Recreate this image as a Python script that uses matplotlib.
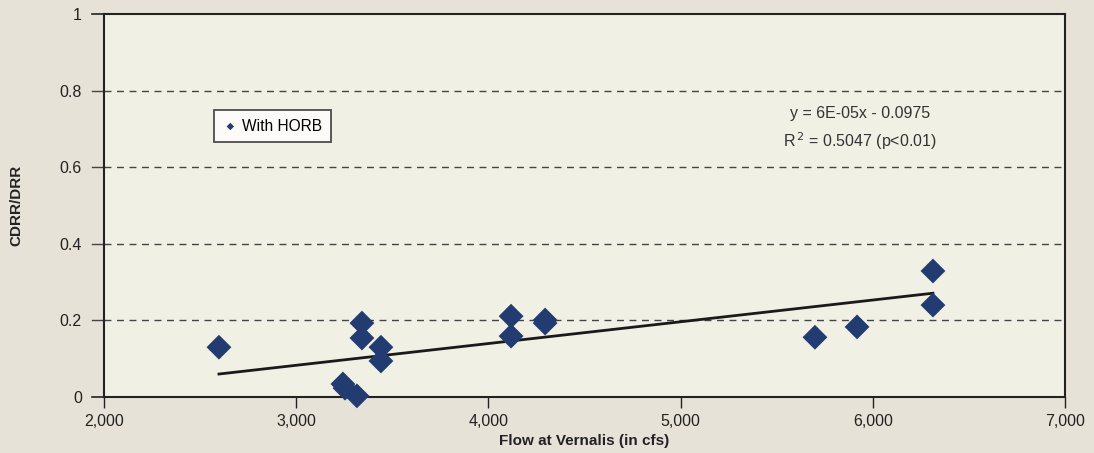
import matplotlib
matplotlib.use("Agg")
import matplotlib.pyplot as plt
import numpy as np

flow = [2598, 3243, 3254, 3316, 3342, 3342, 3441, 3441, 4118, 4118, 4295, 4295, 5699, 5918, 6313, 6313]
ratio = [0.130, 0.034, 0.023, 0.003, 0.193, 0.154, 0.130, 0.094, 0.211, 0.159, 0.201, 0.193, 0.156, 0.183, 0.329, 0.240]
trend_slope = 5.68e-5
trend_intercept = -0.0876
xticks = [2000, 3000, 4000, 5000, 6000, 7000]
yticks = [0, 0.2, 0.4, 0.6, 0.8, 1]
ytick_labels = ["0", "0.2", "0.4", "0.6", "0.8", "1"]
eq_text = "y = 6E-05x - 0.0975"
r2_text = "R$^{\\,2}$ = 0.5047 (p<0.01)"

plt.rcParams['font.family'] = ['Liberation Sans', 'DejaVu Sans']

fig = plt.figure(figsize=(10.94, 4.53), dpi=100, facecolor='#E6E2D7')
ax = fig.add_axes([104/1094, 1 - 397/453, (1065-104)/1094, (397-14)/453])
ax.set_facecolor('#F1F0E5')

fx = np.array(flow)
xl = np.array([fx.min(), fx.max()])
ax.plot(xl, trend_slope*xl + trend_intercept, color='#1a1a1a', lw=2, zorder=3)

ax.scatter(flow, ratio, marker='D', s=160, color='#223B70', edgecolors='none', zorder=4,
           clip_on=False, label='With HORB')

ax.set_xlim(2000, 7000)
ax.set_ylim(0, 1)
ax.set_xticks(xticks)
ax.set_xticklabels([f"{v:,}" for v in xticks])
ax.set_yticks(yticks)
ax.set_yticklabels(ytick_labels)
for v in yticks[1:-1]:
    ax.axhline(v, color='#444444', lw=1, ls=(0, (5, 4)), zorder=1)
    ax.plot([-0.013, 0], [v, v], transform=ax.get_yaxis_transform(), color='#444444', lw=1,
            clip_on=False)

for s in ax.spines.values():
    s.set_color('#222222'); s.set_linewidth(1.5)
ax.tick_params(axis='x', direction='out', length=8, width=1, colors='#222222', labelsize=11.5, pad=4)
ax.tick_params(axis='y', direction='out', length=0, width=1, colors='#222222', labelsize=11.5, pad=16)
ax.plot([-0.013, 0], [0, 0], transform=ax.get_yaxis_transform(), color='#222222', lw=1.2, clip_on=False)
ax.plot([-0.013, 0], [1, 1], transform=ax.get_yaxis_transform(), color='#222222', lw=1.2, clip_on=False)

ax.set_xlabel("Flow at Vernalis (in cfs)", fontsize=11, fontweight='bold', color='#222222', labelpad=4)
ax.set_ylabel("CDRR/DRR", fontsize=11, fontweight='bold', color='#222222', labelpad=26)

leg = ax.legend(loc='upper left', bbox_to_anchor=(110/961, 1 - 96/383), frameon=True, fancybox=False,
                fontsize=11.2, markerscale=0.3, handletextpad=0.25, borderpad=0.55, handlelength=1.0,
                borderaxespad=0)
leg.get_frame().set_edgecolor('#222222'); leg.get_frame().set_linewidth(1.3)
leg.get_frame().set_facecolor('white')

xc = (860-104)/961*5000 + 2000
ax.text(xc, 0.740, eq_text, ha='center', va='center', fontsize=11.5, color='#333333')
ax.text(xc, 0.667, r2_text, ha='center', va='center', fontsize=11.5, color='#333333')

fig.savefig("out.png", dpi=100, facecolor=fig.get_facecolor())
